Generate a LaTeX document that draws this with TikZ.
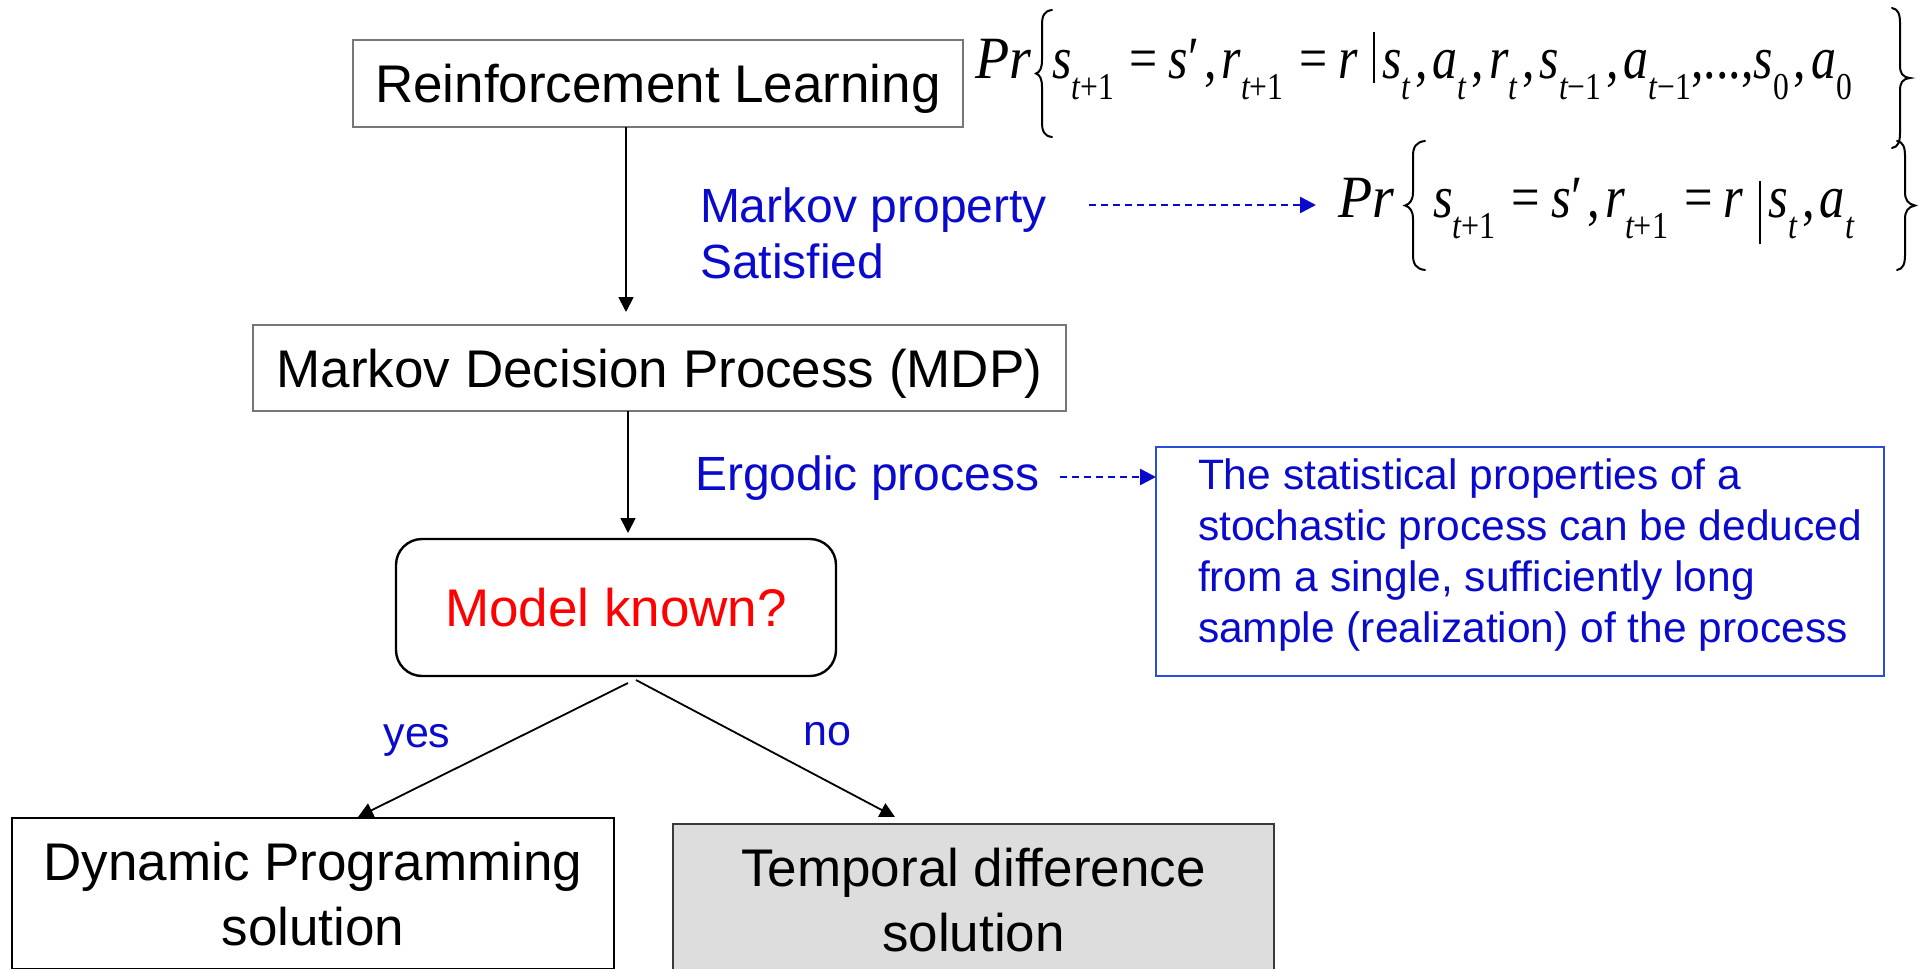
\documentclass[tikz,border=0pt]{standalone}
\usepackage{fontspec}
\setmainfont{Liberation Sans}
\newfontfamily\tnr{Liberation Serif}
\usepackage{graphicx}
\usetikzlibrary{arrows.meta,calc}
\definecolor{tblue}{HTML}{0A0ACC}
\definecolor{bblue}{HTML}{2A4FD6}
\definecolor{gborder}{HTML}{777777}
\definecolor{tdborder}{HTML}{3A3A3A}
\definecolor{tdfill}{HTML}{DDDDDD}
\newcommand\bigf{\fontsize{53}{65}\selectfont}
\newcommand\midf{\fontsize{48}{56}\selectfont}
\newcommand\smf{\fontsize{42.5}{51}\selectfont}
\newcommand\ynf{\fontsize{43}{50}\selectfont}
\newcommand\fmain{\tnr\fontsize{60}{72}\selectfont}
\newcommand\I[1]{{\itshape #1}}
\newcommand\sbs[1]{\raisebox{-0.36em}{\fontsize{38}{40}\selectfont #1}}
\newcommand\cm{\hspace{.1em},\hspace{.1em}}
\newcommand\eq{\hspace{.32em}=\hspace{.22em}}
\begin{document}
\begin{tikzpicture}[x=1pt,y=-1pt,
  lbl/.style={inner sep=0pt, outer sep=0pt},
  gbox/.style={draw=gborder, line width=2.6pt, inner sep=0pt, outer sep=0pt, font=\bigf, text height=38pt, text depth=0pt},
  kbox/.style={draw=black, line width=2.4pt, inner sep=0pt, outer sep=0pt, font=\bigf},
  arr/.style={line width=1.8pt, -{Triangle[length=15pt,width=15pt]}},
  darr/.style={tblue, line width=2.5pt, dash pattern=on 7pt off 5pt, -{Triangle[length=16pt,width=16pt]}},
  brc/.style={line width=2pt, line cap=round}
]
\useasboundingbox (0,0) rectangle (1930,969);
\clip (0,0) rectangle (1930,969);

% boxes
\node[gbox, minimum width=610pt, minimum height=87pt] (rl) at (658,83.5) {Reinforcement Learning};
\node[gbox, minimum width=813pt, minimum height=86pt] (mdp) at (659.5,368) {Markov Decision Process (MDP)};
\node[kbox, rounded corners=26pt, minimum width=440pt, minimum height=137pt, text=red, text height=38pt, text depth=0pt] (mk) at (616,607.5) {Model known?};
\node[kbox, minimum width=602pt, minimum height=151pt, align=center, text height=103pt, text depth=0pt] (dp) at (313,893.5) {Dynamic Programming\\solution};
\node[kbox, draw=tdborder, fill=tdfill, minimum width=601pt, minimum height=151pt, align=center, text height=103pt, text depth=0pt] (td) at (973.5,899.5) {Temporal difference\\solution};
\node[draw=bblue, line width=2.4pt, inner sep=0pt, outer sep=0pt, minimum width=728pt, minimum height=229pt] (ebox) at (1520,561.5) {};

% labels (base anchor of a multi-line node = last line)
\node[lbl, font=\midf, text=tblue, align=left, anchor=base west] (mp) at (700,278) {Markov property\\Satisfied};
\node[lbl, font=\midf, text=tblue, anchor=base west] (eg) at (695,490) {Ergodic process};
\node[lbl, font=\smf, text=tblue, align=left, anchor=base west] (etext) at (1198,642) {The statistical properties of a\\stochastic process can be deduced\\from a single, sufficiently long\\sample (realization) of the process};
\node[lbl, font=\ynf, text=tblue, anchor=base] (yes) at (417,747) {yes};
\node[lbl, font=\ynf, text=tblue, anchor=base] (no) at (827,745) {no};

% formulas
\node[lbl, anchor=base west] (pr1) at (975,78) {\fmain\resizebox{56pt}{\height}{\I{Pr}}};
\node[lbl, anchor=base west] (f1) at (1052,78) {\fmain\resizebox{800pt}{\height}{\I{s}\sbs{\I{t}+1}\eq\I{s}′\cm\I{r}\sbs{\I{t}+1}\eq\I{r}\hspace{.3em}\rule[-0.08em]{2.2pt}{0.84em}\hspace{.15em}\I{s}\sbs{\I{t}}\cm\I{a}\sbs{\I{t}}\cm\I{r}\sbs{\I{t}}\cm\I{s}\sbs{\I{t}−1}\cm\I{a}\sbs{\I{t}−1},...,\I{s}\sbs{0}\cm\I{a}\sbs{0}}};
\node[lbl, anchor=base west] (pr2) at (1338,217) {\fmain\resizebox{56pt}{\height}{\I{Pr}}};
\node[lbl, anchor=base west] (f2) at (1433,217) {\fmain\resizebox{421pt}{\height}{\I{s}\sbs{\I{t}+1}\eq\I{s}′\cm\I{r}\sbs{\I{t}+1}\eq\I{r}\hspace{.3em}\rule[-0.45em]{2.2pt}{1.05em}\hspace{.15em}\I{s}\sbs{\I{t}}\cm\I{a}\sbs{\I{t}}}};

% braces
\draw[brc] (1052,10) .. controls (1044,11) and (1042,16) .. (1042,25) -- (1042,60) .. controls (1042,68) and (1040,72) .. (1036,73.5) .. controls (1040,75) and (1042,79) .. (1042,87) -- (1042,122) .. controls (1042,131) and (1044,136) .. (1052,137);
\draw[brc] (1892,8) .. controls (1898,9) and (1900,14) .. (1900,23) -- (1900,65) .. controls (1900,73) and (1902,77) .. (1910,78) .. controls (1902,79) and (1900,83) .. (1900,91) -- (1900,133) .. controls (1900,142) and (1898,147) .. (1892,148);
\draw[brc] (1425,141) .. controls (1416,142) and (1413,147) .. (1413,156) -- (1413,192) .. controls (1413,200) and (1410,204) .. (1405,205.5) .. controls (1410,207) and (1413,211) .. (1413,219) -- (1413,255) .. controls (1413,264) and (1416,269) .. (1425,270);
\draw[brc] (1897,141) .. controls (1903,142) and (1905,147) .. (1905,156) -- (1905,192) .. controls (1905,200) and (1908,204) .. (1915,205.5) .. controls (1908,207) and (1905,211) .. (1905,219) -- (1905,255) .. controls (1905,264) and (1903,269) .. (1897,270);

% connectors
\draw[arr, shorten >=13pt] ([xshift=-32pt]rl.south) -- ([xshift=-33.5pt]mdp.north);
\draw[arr, shorten >=6pt] ([xshift=-31.5pt]mdp.south) -- ([xshift=12pt]mk.north);
\draw[arr] ([xshift=12pt,yshift=-7pt]mk.south) -- ([xshift=45pt,yshift=1pt]dp.north);
\draw[arr] ([xshift=20pt,yshift=-4pt]mk.south) -- ([xshift=-78.5pt,yshift=7pt]td.north);
\coordinate (mpS) at (1089,205);
\draw[darr] (mpS) -- ($(mpS -| pr2.west)+(-22,0)$);
\coordinate (egS) at (1060,477);
\draw[darr] (egS) -- (egS -| ebox.west);
\end{tikzpicture}
\end{document}
